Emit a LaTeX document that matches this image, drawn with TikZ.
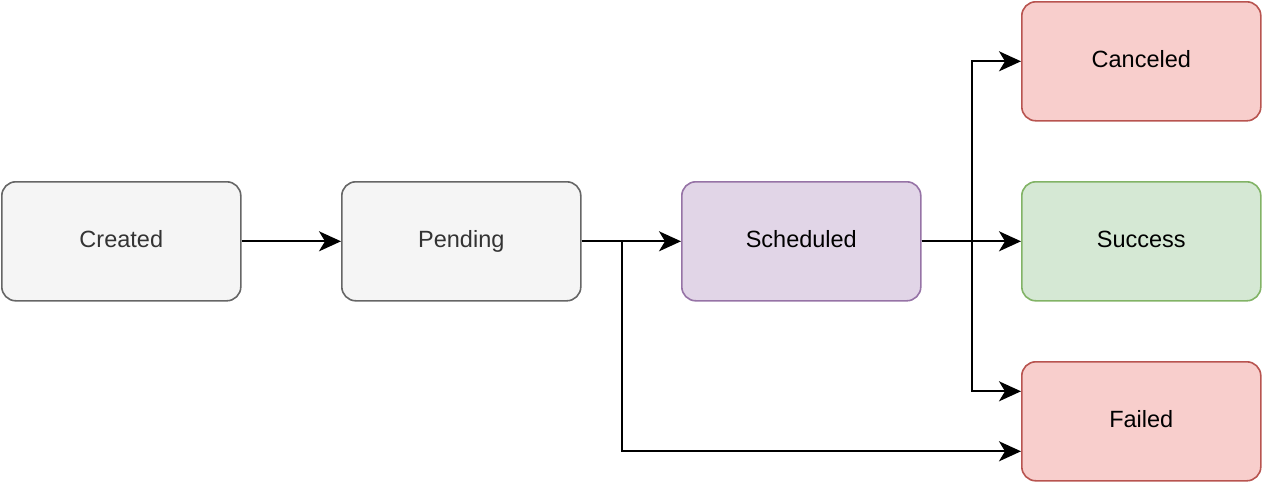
\documentclass[tikz,border=0pt]{standalone}
\usepackage{fontspec}
\setmainfont{Liberation Sans}
\usetikzlibrary{arrows.meta}
\definecolor{grayfill}{HTML}{F5F5F5}
\definecolor{graydraw}{HTML}{666666}
\definecolor{graytext}{HTML}{333333}
\definecolor{purfill}{HTML}{E1D5E7}
\definecolor{purdraw}{HTML}{9673A6}
\definecolor{redfill}{HTML}{F8CECC}
\definecolor{reddraw}{HTML}{B85450}
\definecolor{grnfill}{HTML}{D5E8D4}
\definecolor{grndraw}{HTML}{82B366}
\begin{document}
\begin{tikzpicture}[x=1pt,y=-1pt,
  state/.style={draw, line width=1.6pt, rounded corners=14pt, minimum width=239pt, minimum height=119pt, inner sep=0pt, text height=17pt, text depth=5pt, font=\fontsize{23.5}{28}\selectfont, anchor=north west},
  grayst/.style={state, fill=grayfill, draw=graydraw, text=graytext},
  purst/.style={state, fill=purfill, draw=purdraw},
  redst/.style={state, fill=redfill, draw=reddraw},
  grnst/.style={state, fill=grnfill, draw=grndraw},
  conn/.style={line width=2pt, -{Stealth[length=22pt,width=20pt,inset=6pt]}}
]
\useasboundingbox (0,0) rectangle (1262,482);
\node[grayst] (created) at (1,181) {Created};
\node[grayst] (pending) at (341,181) {Pending};
\node[purst] (sched) at (681,181) {Scheduled};
\node[redst] (cancel) at (1021,1) {Canceled};
\node[grnst] (success) at (1021,181) {Success};
\node[redst] (failed) at (1021,361) {Failed};
\draw[conn] (created.east) -- (pending.west);
\draw[conn] (pending.east) -- (sched.west);
\draw[conn] (pending.east) -- ++(40,0) |- ([yshift=-30pt]failed.west);
\draw[conn] (sched.east) -- (success.west);
\draw[conn] (sched.east) -- ++(50,0) |- (cancel.west);
\draw[conn] (sched.east) -- ++(50,0) |- ([yshift=30pt]failed.west);
\end{tikzpicture}
\end{document}
